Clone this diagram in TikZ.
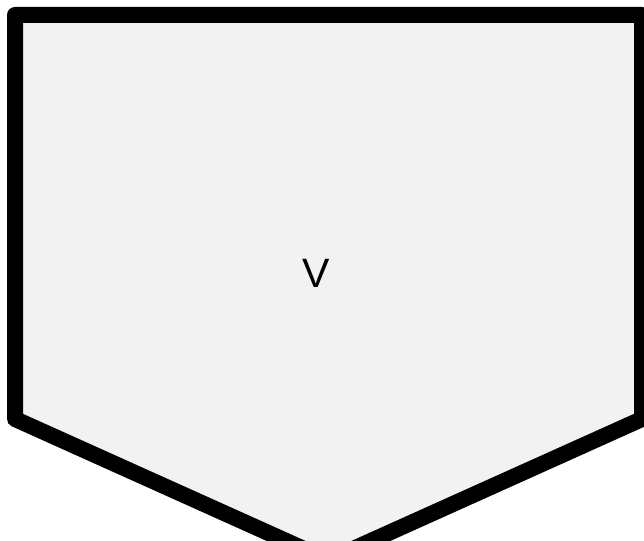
\documentclass[tikz,border=0pt]{standalone}
\usepackage{fontspec}
\setmainfont{Liberation Sans}
\begin{document}
\begin{tikzpicture}[x=1pt,y=-1pt,
  connbox/.style={draw=black,fill=black!5,line width=16pt,line join=round},
  lbl/.style={font=\fontsize{41}{41}\selectfont,inner sep=0pt,anchor=center}]
\useasboundingbox (0,0) rectangle (644,540);
\coordinate (tl) at (15,15);
\coordinate (tr) at (642,15);
\coordinate (br) at (642,419);
\coordinate (tip) at (328.5,560);
\coordinate (bl) at (15,419);
\draw[connbox] (tl) -- (tr) -- (br) -- (tip) -- (bl) -- cycle;
\node[lbl] (v) at (316,273) {V};
\end{tikzpicture}
\end{document}
